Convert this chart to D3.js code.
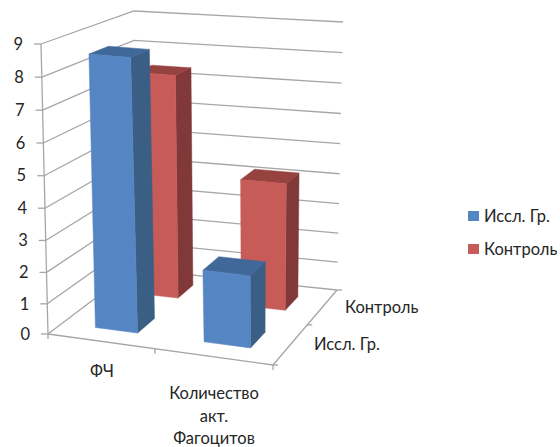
<!DOCTYPE html>
<html>
<head>
<meta charset="utf-8">
<script src="https://cdn.jsdelivr.net/npm/d3@7"></script>
<style>
html,body{margin:0;padding:0;background:#fff}
svg{display:block}
text{font-family:Lato,"Open Sans","Noto Sans",sans-serif;font-size:16.5px;fill:#262626}
</style>
</head>
<body>
<svg id="chart" width="560" height="447"></svg>
<script>
const categories = ["ФЧ", "Количество акт. Фагоцитов"];
const seriesNames = ["Исслед", "Контроль"];
const seriesLabels = ["Иссл. Гр.", "Контроль"];
const researchValues = [8.6, 2.3];
const controlValues = [7.4, 4.2];
const valueTicks = [0, 1, 2, 3, 4, 5, 6, 7, 8, 9];
const frontFill = ["#5585C2", "#C75B58"];
const topFill = ["#40699A", "#96433F"];
const sideFill = ["#3B5E85", "#803938"];

// Four corners of the floor and of the ceiling: front-left, front-right, back-right, back-left.
const floorQuad = [[48, 334], [273, 365], [337, 290], [134, 269]];
const ceilQuad = [[41, 44], [276, 65], [343, 22], [134, 11]];

// Perspective map of the unit square onto a quadrilateral.
function homography(q) {
  const [[x0, y0], [x1, y1], [x2, y2], [x3, y3]] = q;
  const dx1 = x1 - x2, dx2 = x3 - x2, sx = x0 - x1 + x2 - x3;
  const dy1 = y1 - y2, dy2 = y3 - y2, sy = y0 - y1 + y2 - y3;
  const det = dx1 * dy2 - dx2 * dy1;
  const g = (sx * dy2 - dx2 * sy) / det, h = (dx1 * sy - sx * dy1) / det;
  const a = x1 - x0 + g * x1, b = x3 - x0 + h * x3;
  const d = y1 - y0 + g * y1, e = y3 - y0 + h * y3;
  return (u, w) => {
    const k = g * u + h * w + 1;
    return [(a * u + b * w + x0) / k, (d * u + e * w + y0) / k];
  };
}
const floorMap = homography(floorQuad), ceilMap = homography(ceilQuad);

const xBand = d3.scaleBand().domain(categories).range([0.012, 1.012]).paddingInner(0.6).paddingOuter(0.3);
const zBand = d3.scaleBand().domain(seriesNames).range([0, 1]).paddingInner(0.6).paddingOuter(0.3);
const yRise = d3.scalePow().exponent(1.03).domain([0, 9]).range([0, 1]);

// Project (across, value, depth) to screen coordinates.
function project(u, v, w) {
  const f = floorMap(u, w), c = ceilMap(u, w), t = yRise(v);
  return [f[0] + (c[0] - f[0]) * t, f[1] + (c[1] - f[1]) * t];
}

const svg = d3.select("#chart");
const line = d3.line();
const grid = svg.append("g").attr("fill", "none").attr("stroke", "#A6A6A6").attr("stroke-width", 1.3);

// Gridlines run along the left wall and then along the back wall.
valueTicks.forEach(v => {
  grid.append("path").attr("d", line([project(0, v, 0), project(0, v, 1), project(1, v, 1)]));
  const p = project(0, v, 0);
  grid.append("path").attr("d", line([p, [p[0] - 7, p[1]]]));
  svg.append("text").attr("x", p[0] - 18).attr("y", p[1]).attr("dy", "0.35em")
    .attr("text-anchor", "end").text(v);
});
grid.append("path").attr("d", line([project(0, 0, 0), project(0, 9, 0)]));
grid.append("path").attr("d", line([project(0, 0, 0), project(1, 0, 0), project(1, 0, 1)]));

// Tick marks on the two floor axes.
[0, 0.5, 1].forEach(u => {
  const p = project(u, 0, 0);
  grid.append("path").attr("d", line([p, [p[0], p[1] + 5]]));
});
[0, 0.5, 1].forEach(w => {
  const p = project(1, 0, w);
  grid.append("path").attr("d", line([p, [p[0] + 5, p[1]]]));
});

// Bars, back row first so that the front row overlaps it.
const rows = [controlValues, researchValues];
const rowSeries = [1, 0];
rows.forEach((vals, r) => {
  const s = rowSeries[r];
  const z0 = zBand(seriesNames[s]), z1 = z0 + zBand.bandwidth();
  categories.forEach((cat, i) => {
    const u0 = xBand(cat), u1 = u0 + xBand.bandwidth(), v = vals[i];
    const g = svg.append("g");
    const poly = (pts, fill) => g.append("path").attr("d", line(pts) + "Z").attr("fill", fill)
      .attr("stroke", fill).attr("stroke-width", 0.5);
    poly([project(u1, 0, z0), project(u1, v, z0), project(u1, v, z1), project(u1, 0, z1)], sideFill[s]);
    poly([project(u0, v, z0), project(u1, v, z0), project(u1, v, z1), project(u0, v, z1)], topFill[s]);
    poly([project(u0, 0, z0), project(u1, 0, z0), project(u1, v, z0), project(u0, v, z0)], frontFill[s]);
  });
});

// Category labels; the long one wraps over three lines.
svg.append("text").attr("x", 102).attr("y", 377).attr("text-anchor", "middle").text(categories[0]);
const wrapped = svg.append("text").attr("text-anchor", "middle");
["Количество", "акт.", "Фагоцитов"].forEach((t, i) => {
  wrapped.append("tspan").attr("x", 214).attr("y", 399 + i * 22.5).text(t);
});

// Depth axis labels.
svg.append("text").attr("x", 345).attr("y", 313).text(seriesLabels[1]);
svg.append("text").attr("x", 314).attr("y", 350).text(seriesLabels[0]);

// Legend.
const legendY = [216, 249];
seriesLabels.forEach((name, i) => {
  svg.append("rect").attr("x", 468).attr("y", legendY[i] - 5).attr("width", 11).attr("height", 10).attr("fill", frontFill[i]);
  svg.append("text").attr("x", 484).attr("y", legendY[i]).attr("dy", "0.35em").text(name);
});
</script>
</body>
</html>
